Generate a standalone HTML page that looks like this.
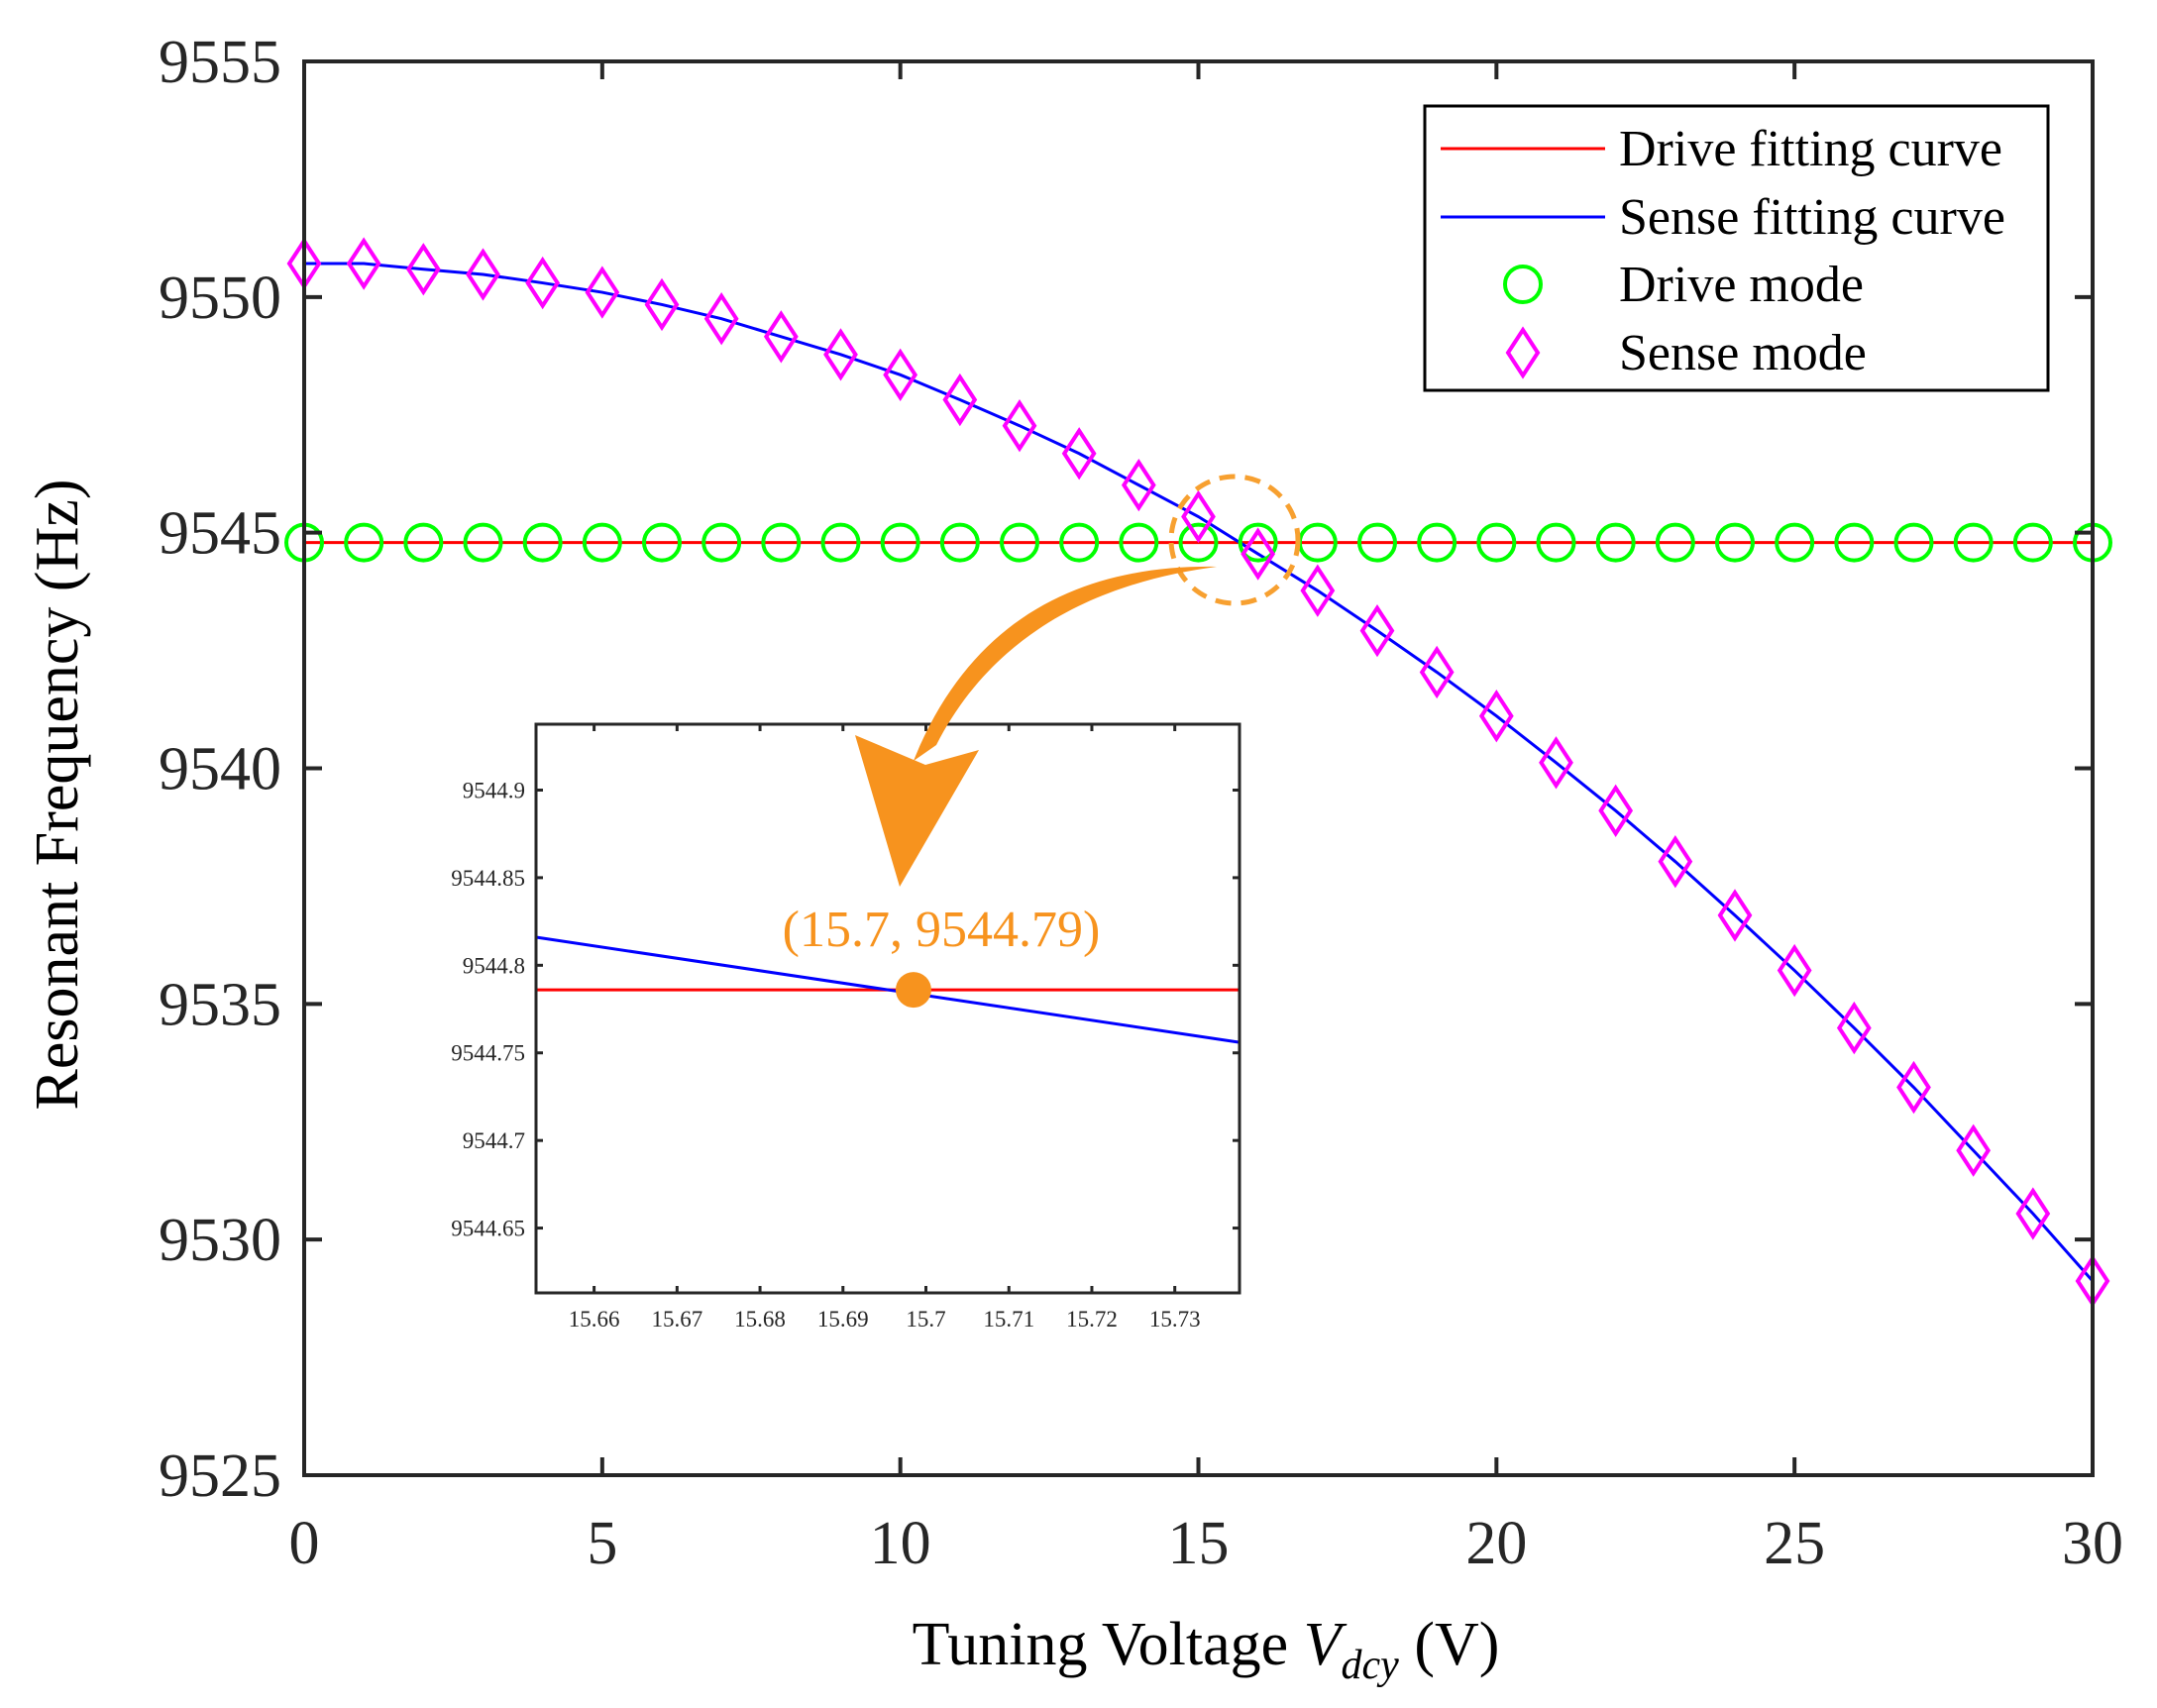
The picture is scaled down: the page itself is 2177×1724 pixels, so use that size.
<!DOCTYPE html>
<html><head><meta charset="utf-8"><style>
html,body{margin:0;padding:0;background:#fff;}
svg{display:block;font-family:"Liberation Serif",serif;}
</style></head><body>
<svg id="chart" width="2177" height="1724" viewBox="0 0 2177 1724" xmlns="http://www.w3.org/2000/svg">
<rect width="2177" height="1724" fill="#fff"/>
<g id="main"></g>
<g id="inset"></g>
<g id="arrow"></g>
</svg>
<script>
const voltages=[0,1,2,3,4,5,6,7,8,9,10,11,12,13,14,15,16,17,18,19,20,21,22,23,24,25,26,27,28,29,30];
const senseFreq=[9550.71,9550.71,9550.59,9550.48,9550.30,9550.10,9549.84,9549.54,9549.16,9548.78,9548.35,9547.82,9547.27,9546.68,9546.01,9545.34,9544.55,9543.77,9542.92,9542.04,9541.11,9540.12,9539.10,9538.02,9536.88,9535.71,9534.49,9533.23,9531.89,9530.55,9529.12];
const driveFreq=[9544.79,9544.79,9544.79,9544.79,9544.79,9544.79,9544.79,9544.79,9544.79,9544.79,9544.79,9544.79,9544.79,9544.79,9544.79,9544.79,9544.79,9544.79,9544.79,9544.79,9544.79,9544.79,9544.79,9544.79,9544.79,9544.79,9544.79,9544.79,9544.79,9544.79,9544.79];
const xTicks=[0,5,10,15,20,25,30];
const yTicks=[9525,9530,9535,9540,9545,9550,9555];
const insetXTicks=[15.66,15.67,15.68,15.69,15.7,15.71,15.72,15.73];
const insetYTicks=[9544.65,9544.7,9544.75,9544.8,9544.85,9544.9];
const insetDrive=[[15.653,9544.786],[15.7378,9544.786]];
const insetSense=[[15.653,9544.816],[15.7378,9544.756]];
const crossing=[15.6985,9544.786];

const NS="http://www.w3.org/2000/svg";
function mk(parent,tag,attrs,text){const e=document.createElementNS(NS,tag);for(const k in attrs)e.setAttribute(k,attrs[k]);if(text!==undefined)e.textContent=text;parent.appendChild(e);return e;}
const L=307,R=2112,T=62,B=1489;
const xs=v=>L+(v-0)/30*(R-L);
const ys=v=>B-(v-9525)/30*(B-T);
const main=document.getElementById('main');
const ink="#262626";

let e;
e=mk(main,'line',{x1:xs(0),x2:xs(30),y1:ys(driveFreq[0]),y2:ys(driveFreq[0]),stroke:'#ff0000','stroke-width':3});


e=mk(main,'polyline',{points:voltages.map((v,i)=>xs(v)+','+ys(senseFreq[i])).join(' '),fill:'none',stroke:'#0000ff','stroke-width':3});


voltages.forEach((v,i)=>{
  const c=mk(main,'circle',{cx:xs(v),cy:ys(driveFreq[i]),r:18,fill:'none',stroke:'#00ff00','stroke-width':4});
  
  
  const x=xs(v),y=ys(senseFreq[i]);
  const d=mk(main,'polygon',{points:`${x},${y-23} ${x+15},${y} ${x},${y+23} ${x-15},${y}`,fill:'none',stroke:'#ff00ff','stroke-width':4});
  
  
});
e=mk(main,'rect',{x:L,y:T,width:R-L,height:B-T,fill:'none',stroke:ink,'stroke-width':4});


xTicks.forEach(t=>{
  mk(main,'line',{x1:xs(t),x2:xs(t),y1:B,y2:B-18,stroke:ink,'stroke-width':4});
  mk(main,'line',{x1:xs(t),x2:xs(t),y1:T,y2:T+18,stroke:ink,'stroke-width':4});
  const tx=mk(main,'text',{x:xs(t),y:1578,'text-anchor':'middle','font-size':62,fill:ink},String(t));
  
  
});
yTicks.forEach(t=>{
  mk(main,'line',{x1:L,x2:L+18,y1:ys(t),y2:ys(t),stroke:ink,'stroke-width':4});
  mk(main,'line',{x1:R,x2:R-18,y1:ys(t),y2:ys(t),stroke:ink,'stroke-width':4});
  const tx=mk(main,'text',{x:284,y:ys(t)+21,'text-anchor':'end','font-size':62,fill:ink},String(t));
  
  
});
e=mk(main,'text',{x:1217,y:1680,'text-anchor':'middle','font-size':62,fill:'#000'});
e.innerHTML='Tuning Voltage <tspan font-style="italic">V</tspan><tspan font-style="italic" font-size="42" dy="14">dcy</tspan><tspan dy="-14"> (V)</tspan>';


e=mk(main,'text',{x:0,y:0,'text-anchor':'middle','font-size':62,fill:'#000',transform:'translate(78,802) rotate(-90)'},'Resonant Frequency (Hz)');



const lg=mk(main,'g',{});


mk(lg,'rect',{x:1438,y:107,width:629,height:287,fill:'#fff',stroke:'#000','stroke-width':3});
const legY=[150,219,287,356];
const legTxt=['Drive fitting curve','Sense fitting curve','Drive mode','Sense mode'];
legTxt.forEach((t,i)=>{
  const g=mk(lg,'g',{});
  
  
  const y=legY[i];
  if(i===0)mk(g,'line',{x1:1454,x2:1620,y1:y,y2:y,stroke:'#ff0000','stroke-width':3});
  if(i===1)mk(g,'line',{x1:1454,x2:1620,y1:y,y2:y,stroke:'#0000ff','stroke-width':3});
  if(i===2)mk(g,'circle',{cx:1537,cy:y,r:18,fill:'none',stroke:'#00ff00','stroke-width':4});
  if(i===3)mk(g,'polygon',{points:`1537,${y-23} 1552,${y} 1537,${y+23} 1522,${y}`,fill:'none',stroke:'#ff00ff','stroke-width':4});
  mk(g,'text',{x:1634,y:y+17,'font-size':52,fill:'#000'},t);
});

e=mk(main,'circle',{cx:1246,cy:545,r:64,fill:'none',stroke:'#f7a030','stroke-width':5,'stroke-dasharray':'16 10'});



const inset=document.getElementById('inset');


const IL=541,IR=1251,IT=731,IB=1305;
const ixs=v=>IL+(v-15.653)/(15.7378-15.653)*(IR-IL);
const iys=v=>IB-(v-9544.613)/(9544.9376-9544.613)*(IB-IT);
mk(inset,'rect',{x:IL,y:IT,width:IR-IL,height:IB-IT,fill:'#fff'});
e=mk(inset,'line',{x1:ixs(insetDrive[0][0]),y1:iys(insetDrive[0][1]),x2:ixs(insetDrive[1][0]),y2:iys(insetDrive[1][1]),stroke:'#ff0000','stroke-width':3});


e=mk(inset,'line',{x1:ixs(insetSense[0][0]),y1:iys(insetSense[0][1]),x2:ixs(insetSense[1][0]),y2:iys(insetSense[1][1]),stroke:'#0000ff','stroke-width':3});


e=mk(inset,'circle',{cx:ixs(crossing[0]),cy:iys(crossing[1]),r:18,fill:'#f7931e'});


e=mk(inset,'text',{x:950,y:955,'text-anchor':'middle','font-size':52,fill:'#f7931e'},'(15.7, 9544.79)');


mk(inset,'rect',{x:IL,y:IT,width:IR-IL,height:IB-IT,fill:'none',stroke:ink,'stroke-width':3});
insetXTicks.forEach(t=>{
  mk(inset,'line',{x1:ixs(t),x2:ixs(t),y1:IB,y2:IB-7,stroke:ink,'stroke-width':3});
  mk(inset,'line',{x1:ixs(t),x2:ixs(t),y1:IT,y2:IT+7,stroke:ink,'stroke-width':3});
  const tx=mk(inset,'text',{x:ixs(t),y:1339,'text-anchor':'middle','font-size':23,fill:ink},String(t));
  
  
});
insetYTicks.forEach(t=>{
  mk(inset,'line',{x1:IL,x2:IL+7,y1:iys(t),y2:iys(t),stroke:ink,'stroke-width':3});
  mk(inset,'line',{x1:IR,x2:IR-7,y1:iys(t),y2:iys(t),stroke:ink,'stroke-width':3});
  const tx=mk(inset,'text',{x:530,y:iys(t)+8,'text-anchor':'end','font-size':23,fill:ink},String(t));
  
  
});

const arrow=document.getElementById('arrow');
e=mk(arrow,'path',{d:'M1228,572 C1130,585 1010,625 945,752 L922,768 C985,610 1110,570 1228,572 Z',fill:'#f7931e'});


e=mk(arrow,'polygon',{points:'863,742 908,895 988,757 934,772',fill:'#f7931e'});


</script>
</body></html>
